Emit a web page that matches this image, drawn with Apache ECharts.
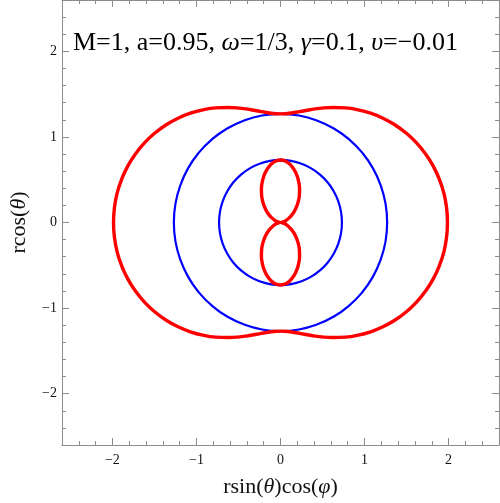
<!DOCTYPE html>
<html>
<head>
<meta charset="utf-8">
<script src="https://cdn.jsdelivr.net/npm/echarts@6/dist/echarts.min.js"></script>
<style>
  html, body { margin: 0; padding: 0; background: #fff; }
</style>
</head>
<body>
<div id="main" style="width:500px;height:503px"></div>
<script>
// tick positions
var majorTicks = [-2, -1, 0, 1, 2];
var minorTicks = [-2.6, -2.4, -2.2, -2, -1.8, -1.6, -1.4, -1.2, -1, -0.8, -0.6, -0.4, -0.2, 0,
  0.2, 0.4, 0.6, 0.8, 1, 1.2, 1.4, 1.6, 1.8, 2, 2.2, 2.4, 2.6];

// outer red curve (ergosurface)
var ergoOuter = [
  [0, 1.269], [0.112, 1.277], [0.228, 1.296], [0.353, 1.318], [0.486, 1.336], [0.627, 1.344],
  [0.773, 1.339], [0.922, 1.317], [1.072, 1.277], [1.219, 1.219], [1.360, 1.142], [1.494, 1.046],
  [1.616, 0.933], [1.724, 0.804], [1.816, 0.661], [1.890, 0.506], [1.944, 0.343], [1.976, 0.173],
  [1.987, 0],
  [1.976, -0.173], [1.944, -0.343], [1.890, -0.506], [1.816, -0.661], [1.724, -0.804], [1.616, -0.933],
  [1.494, -1.046], [1.360, -1.142], [1.219, -1.219], [1.072, -1.277], [0.922, -1.317], [0.773, -1.339],
  [0.627, -1.344], [0.486, -1.336], [0.353, -1.318], [0.228, -1.296], [0.112, -1.277], [0, -1.269],
  [-0.112, -1.277], [-0.228, -1.296], [-0.353, -1.318], [-0.486, -1.336], [-0.627, -1.344],
  [-0.773, -1.339], [-0.922, -1.317], [-1.072, -1.277], [-1.219, -1.219], [-1.360, -1.142], [-1.494, -1.046],
  [-1.616, -0.933], [-1.724, -0.804], [-1.816, -0.661], [-1.890, -0.506], [-1.944, -0.343], [-1.976, -0.173],
  [-1.987, 0],
  [-1.976, 0.173], [-1.944, 0.343], [-1.890, 0.506], [-1.816, 0.661], [-1.724, 0.804], [-1.616, 0.933],
  [-1.494, 1.046], [-1.360, 1.142], [-1.219, 1.219], [-1.072, 1.277], [-0.922, 1.317], [-0.773, 1.339],
  [-0.627, 1.344], [-0.486, 1.336], [-0.353, 1.318], [-0.228, 1.296], [-0.112, 1.277], [0, 1.269],
  [0.112, 1.277]
];

// inner red figure eight
var ergoInner = [
  [0, 0.731], [0.063, 0.716], [0.119, 0.674], [0.164, 0.614], [0.198, 0.543], [0.218, 0.468],
  [0.227, 0.393], [0.225, 0.321], [0.214, 0.255], [0.195, 0.195], [0.172, 0.144], [0.145, 0.101],
  [0.116, 0.067], [0.064, 0.023], [0.026, 0.005], [0.013, 0],
  [0.026, -0.005], [0.064, -0.023], [0.116, -0.067], [0.145, -0.101], [0.172, -0.144], [0.195, -0.195],
  [0.214, -0.255], [0.225, -0.321], [0.227, -0.393], [0.218, -0.468], [0.198, -0.543], [0.164, -0.614],
  [0.119, -0.674], [0.063, -0.716], [0, -0.731],
  [-0.063, -0.716], [-0.119, -0.674], [-0.164, -0.614], [-0.198, -0.543], [-0.218, -0.468],
  [-0.227, -0.393], [-0.225, -0.321], [-0.214, -0.255], [-0.195, -0.195], [-0.172, -0.144], [-0.145, -0.101],
  [-0.116, -0.067], [-0.064, -0.023], [-0.026, -0.005], [-0.013, 0],
  [-0.026, 0.005], [-0.064, 0.023], [-0.116, 0.067], [-0.145, 0.101], [-0.172, 0.144], [-0.195, 0.195],
  [-0.214, 0.255], [-0.225, 0.321], [-0.227, 0.393], [-0.218, 0.468], [-0.198, 0.543], [-0.164, 0.614],
  [-0.119, 0.674], [-0.063, 0.716], [0, 0.731], [0.063, 0.716]
];

// blue horizons
var horizonOuter = [
  [0, 1.269], [0.220, 1.250], [0.434, 1.192], [0.635, 1.099], [0.816, 0.972], [0.972, 0.816],
  [1.099, 0.635], [1.192, 0.434], [1.250, 0.220], [1.269, 0],
  [1.250, -0.220], [1.192, -0.434], [1.099, -0.635], [0.972, -0.816], [0.816, -0.972], [0.635, -1.099],
  [0.434, -1.192], [0.220, -1.250], [0, -1.269],
  [-0.220, -1.250], [-0.434, -1.192], [-0.635, -1.099], [-0.816, -0.972], [-0.972, -0.816], [-1.099, -0.635],
  [-1.192, -0.434], [-1.250, -0.220], [-1.269, 0],
  [-1.250, 0.220], [-1.192, 0.434], [-1.099, 0.635], [-0.972, 0.816], [-0.816, 0.972], [-0.635, 1.099],
  [-0.434, 1.192], [-0.220, 1.250], [0, 1.269], [0.220, 1.250]
];
var horizonInner = [
  [0, 0.731], [0.127, 0.720], [0.250, 0.687], [0.366, 0.633], [0.470, 0.560], [0.560, 0.470],
  [0.633, 0.366], [0.687, 0.250], [0.720, 0.127], [0.731, 0],
  [0.720, -0.127], [0.687, -0.250], [0.633, -0.366], [0.560, -0.470], [0.470, -0.560], [0.366, -0.633],
  [0.250, -0.687], [0.127, -0.720], [0, -0.731],
  [-0.127, -0.720], [-0.250, -0.687], [-0.366, -0.633], [-0.470, -0.560], [-0.560, -0.470], [-0.633, -0.366],
  [-0.687, -0.250], [-0.720, -0.127], [-0.731, 0],
  [-0.720, 0.127], [-0.687, 0.250], [-0.633, 0.366], [-0.560, 0.470], [-0.470, 0.560], [-0.366, 0.633],
  [-0.250, 0.687], [-0.127, 0.720], [0, 0.731], [0.127, 0.720]
];

var serif = "Liberation Serif";
var frameColor = "#8c8c8c";

function fmt(v) {
  return v < 0 ? "\u2212" + Math.abs(v) : String(v);
}

// one axis for short ticks + labels, one for long ticks (same side)
function makeAxis(pos, withLabels, major, name, nameGap) {
  var ax = {
    type: "value",
    position: pos,
    min: -2.6,
    max: 2.6,
    splitLine: { show: false },
    axisLine: { show: !major, onZero: false, lineStyle: { color: frameColor, width: 1 } },
    axisTick: {
      show: true,
      inside: true,
      length: major ? 7 : 4,
      customValues: major ? majorTicks : minorTicks,
      lineStyle: { color: frameColor, width: 1 }
    },
    axisLabel: { show: false }
  };
  if (withLabels) {
    ax.axisLabel = {
      show: true,
      customValues: majorTicks,
      formatter: fmt,
      fontFamily: serif,
      fontSize: 14,
      color: "#111",
      margin: pos == "bottom" ? 8 : 5
    };
  }
  if (name) {
    ax.name = name;
    ax.nameLocation = "middle";
    ax.nameGap = nameGap;
    ax.nameTextStyle = {
      fontFamily: serif,
      fontSize: 22,
      color: "#111",
      rich: { i: { fontFamily: serif, fontSize: 22, fontStyle: "italic", color: "#111" } }
    };
  }
  return ax;
}

var chart = echarts.init(document.getElementById("main"));

var option = {
  animation: false,
  backgroundColor: "#fff",
  title: {
    text: "M=1, a=0.95, {i|\u03c9}=1/3, {i|\u03b3}=0.1, {i|\u03c5}=\u22120.01",
    left: 73,
    top: 30,
    padding: 0,
    textStyle: {
      fontFamily: serif,
      fontSize: 26,
      fontWeight: "normal",
      color: "#000",
      rich: { i: { fontFamily: serif, fontSize: 26, fontStyle: "italic", color: "#000" } }
    }
  },
  grid: { left: 53, right: 1, top: 0, bottom: 57 },
  xAxis: [
    makeAxis("bottom", true, false, "rsin({i|\u03b8})cos({i|\u03c6})", 31),
    makeAxis("bottom", false, true),
    makeAxis("top", false, false),
    makeAxis("top", false, true)
  ],
  yAxis: [
    makeAxis("left", true, false, "rcos({i|\u03b8})", 32),
    makeAxis("left", false, true),
    makeAxis("right", false, false),
    makeAxis("right", false, true)
  ],
  series: [
    {
      type: "line", data: horizonOuter, smooth: true, showSymbol: false,
      lineStyle: { color: "#0000ff", width: 2.2 }, z: 2
    },
    {
      type: "line", data: horizonInner, smooth: true, showSymbol: false,
      lineStyle: { color: "#0000ff", width: 2.2 }, z: 2
    },
    {
      type: "line", data: ergoOuter, smooth: true, showSymbol: false,
      lineStyle: { color: "#ff0000", width: 3.4 }, z: 3
    },
    {
      type: "line", data: ergoInner, smooth: true, showSymbol: false,
      lineStyle: { color: "#ff0000", width: 3.4 }, z: 3
    }
  ]
};
chart.setOption(option);
</script>
</body>
</html>
